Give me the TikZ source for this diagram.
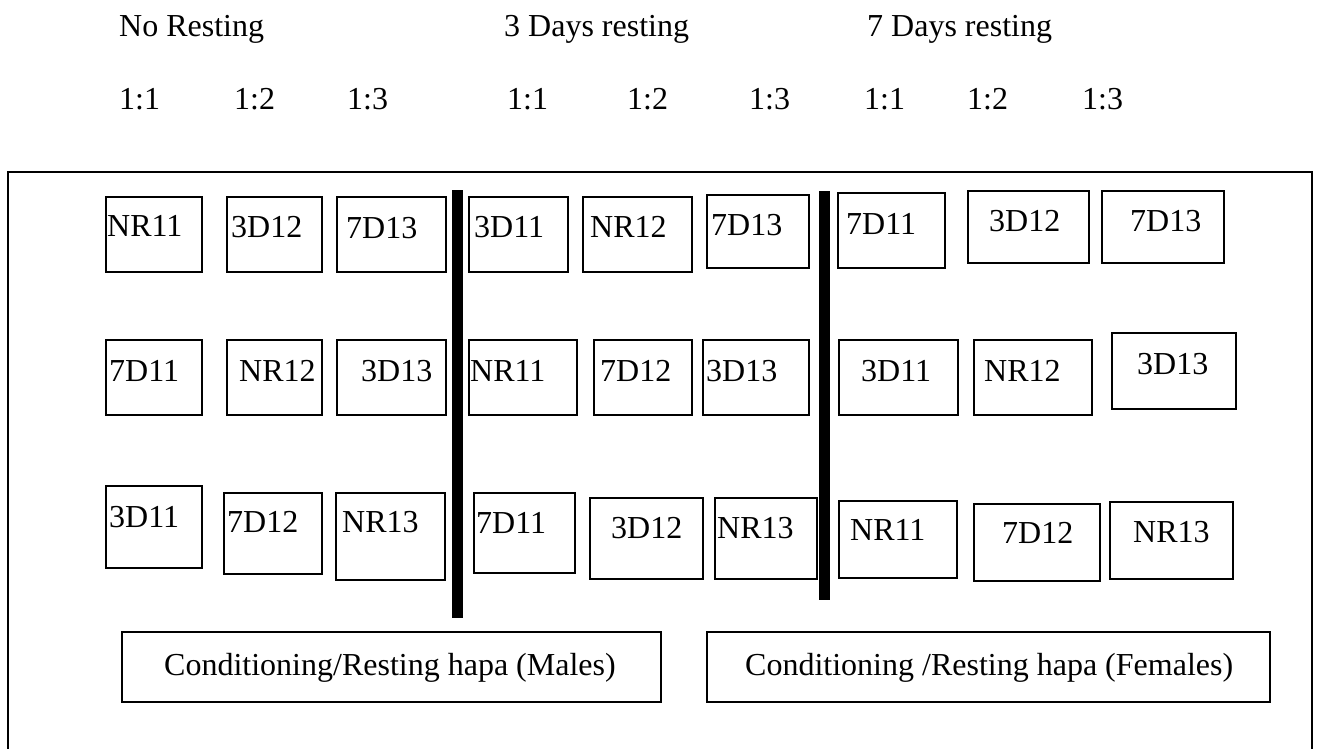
\documentclass[tikz,border=0pt]{standalone}
\usepackage{fontspec}
\setmainfont{Liberation Serif}
\tikzset{
  cellbox/.style={draw, line width=1.7pt, inner sep=0pt, outer sep=0pt},
  celltext/.style={anchor=base west, inner sep=0pt, font=\fontsize{32}{38}\selectfont},
  headtext/.style={anchor=base west, inner sep=0pt, font=\fontsize{32}{38}\selectfont},
  hapabox/.style={draw, line width=1.7pt, inner sep=0pt, outer sep=0pt},
  frameline/.style={line width=1.5pt},
  divider/.style={fill=black, draw=none}
}
\newcommand\hapacell[8]{%
  \node[cellbox, minimum width={#4-#2}, minimum height={#5-#3}] (#1) at ({(#2+#4)/2},{(#3+#5)/2}) {};
  \node[celltext] (#1t) at (#6,#7) {#8};
}
\begin{document}
\begin{tikzpicture}[x=1pt,y=-1pt]
\useasboundingbox (0,0) rectangle (1317,749);
% headers
\node[headtext] (h1) at (119,37) {No Resting};
\node[headtext] (h2) at (504,37) {3 Days resting};
\node[headtext] (h3) at (867,37) {7 Days resting};
\node[headtext] (r1) at (119,110) {1:1};
\node[headtext] (r2) at (234,110) {1:2};
\node[headtext] (r3) at (347,110) {1:3};
\node[headtext] (r4) at (507,110) {1:1};
\node[headtext] (r5) at (627,110) {1:2};
\node[headtext] (r6) at (749,110) {1:3};
\node[headtext] (r7) at (864,110) {1:1};
\node[headtext] (r8) at (967,110) {1:2};
\node[headtext] (r9) at (1082,110) {1:3};
% frame
\coordinate (fbl) at (8,749);
\coordinate (ftl) at (8,172);
\coordinate (ftr) at (1312,172);
\coordinate (fbr) at (1312,749);
\draw[frameline] (fbl) -- (ftl) -- (ftr) -- (fbr);
% dividers
\fill[divider] (452,190) rectangle (463,618);
\fill[divider] (819,191) rectangle (830,600);
% row 1
\hapacell{b11}{106}{197}{202}{272}{107}{236}{NR11}
\hapacell{b12}{227}{197}{322}{272}{231}{237}{3D12}
\hapacell{b13}{337}{197}{446}{272}{346}{238}{7D13}
\hapacell{b14}{469}{197}{568}{272}{474}{237}{3D11}
\hapacell{b15}{583}{197}{692}{272}{590}{237}{NR12}
\hapacell{b16}{707}{195}{809}{268}{711}{235}{7D13}
\hapacell{b17}{838}{193}{945}{268}{846}{234}{7D11}
\hapacell{b18}{968}{191}{1089}{263}{989}{231}{3D12}
\hapacell{b19}{1102}{191}{1224}{263}{1130}{231}{7D13}
% row 2
\hapacell{b21}{106}{340}{202}{415}{109}{381}{7D11}
\hapacell{b22}{227}{340}{322}{415}{239}{381}{NR12}
\hapacell{b23}{337}{340}{446}{415}{361}{381}{3D13}
\hapacell{b24}{469}{340}{577}{415}{470}{381}{NR11}
\hapacell{b25}{594}{340}{692}{415}{600}{381}{7D12}
\hapacell{b26}{703}{340}{809}{415}{706}{381}{3D13}
\hapacell{b27}{839}{340}{958}{415}{861}{381}{3D11}
\hapacell{b28}{974}{340}{1092}{415}{984}{381}{NR12}
\hapacell{b29}{1112}{333}{1236}{409}{1137}{374}{3D13}
% row 3
\hapacell{b31}{106}{486}{202}{568}{109}{527}{3D11}
\hapacell{b32}{224}{493}{322}{574}{227}{532}{7D12}
\hapacell{b33}{336}{493}{445}{580}{342}{532}{NR13}
\hapacell{b34}{474}{493}{575}{573}{476}{533}{7D11}
\hapacell{b35}{590}{498}{703}{579}{611}{538}{3D12}
\hapacell{b36}{715}{498}{817}{579}{717}{538}{NR13}
\hapacell{b37}{839}{501}{957}{578}{850}{540}{NR11}
\hapacell{b38}{974}{504}{1100}{581}{1002}{543}{7D12}
\hapacell{b39}{1110}{502}{1233}{579}{1133}{542}{NR13}
% hapas
\node[hapabox, minimum width=539, minimum height=70] (males) at (391.5,667) {};
\node[headtext] (malest) at (164,675) {Conditioning/Resting hapa (Males)};
\node[hapabox, minimum width=563, minimum height=70] (females) at (988.5,667) {};
\node[headtext] (femalest) at (745,675) {Conditioning /Resting hapa (Females)};
\end{tikzpicture}
\end{document}
